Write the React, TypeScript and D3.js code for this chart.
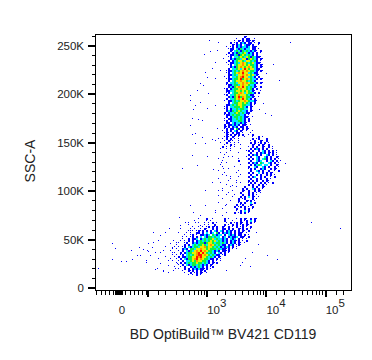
import React from 'react'
import * as d3 from 'd3'

const width = 372
const height = 360

const yMajorTicks = [0, 50000, 100000, 150000, 200000, 250000]
const yMinorTicks = [10000, 20000, 30000, 40000, 60000, 70000, 80000, 90000, 110000, 120000, 130000, 140000, 160000, 170000, 180000, 190000, 210000, 220000, 230000, 240000, 260000]
const xMajorTicks = [100, 1000, 10000, 100000]
const xLinearTicks = [-76, -62, -48, -34, -20, -12, -10, -8, -6, -4, -2, 0, 2, 4, 6, 8, 10, 12, 24, 38, 52, 66, 80, 94]
const xLogTicks = [150, 200, 300, 400, 500, 600, 700, 800, 900, 1500, 2000, 3000, 4000, 5000, 6000, 7000, 8000, 9000, 15000, 20000, 30000, 40000, 50000, 60000, 70000, 80000, 90000, 150000, 200000]
const xLabels = [{ value: 1000, exp: '3' }, { value: 10000, exp: '4' }, { value: 100000, exp: '5' }]

// pseudocolor levels, low to high density
const levelColors: Record<string, string> = {
  ':': '#0000ff',
  b: '#0000ff',
  c: '#00e8ff',
  g: '#10f040',
  y: '#e8f000',
  o: '#ff9000',
  r: '#ff1000',
}

// density rows, two channels per character
const upperFirstChannelX = 120
const upperFirstChannelY = 252
const upperRows = [
  '..............b:',
  '..........:..b.bb..:',
  '.........:.b:b.bb:b:',
  '.......b.:b.bcb.bb.:.b',
  '........b:bcb.cbb:b..:',
  '.....:.:b.bcbccbc.bb:',
  '......:bb.cbgcbcc.bb.:',
  '.......b:cgcbgcgcbcb:.b',
  '......b.bcbgcgycbcb.b.:',
  '.....:.bbcgbgygcgcb.b',
  '......:b.ccgygcygbgcbb:.',
  '.......bcbggcyybgygcb.b:',
  '......b.bcgyygcyygcgb.:',
  '.....:.bbcgcyoygcgycbb:',
  '......:b.cgyyoygyggcb.b:',
  '.......bcbgyoygyoygcb.b:',
  '......b.ccgycyrygyycbb.',
  '.....:bbcgcgyoyoyggcb:b:',
  '.....:b.cgyoyryycgcbb.',
  '......bbcgcyyoyoygycb:',
  '....:.b.ccgyoryycgcb.b',
  '.....:bbcggyrgyoygccb.b:',
  '......b.cgyyoyygcgcb.',
  '.....b.ccgcyyoyoyggcb.b:',
  '.....:bbcggcyoyygccb.',
  '......bcbgyoyrygcgcb:.b',
  '....:b.bcggyoyygcgb.b',
  '.....bbccgyygygygcb:.',
  '.....:b.cggyoycyggcb.b',
  '....:b.ccgyoyyygcbb.',
  '......bcbgyrgoyggcb:.:',
  '.....b.ccgyoyrygcb.b',
  '....:.bbcgcgyyoygccb:',
  '......b.cggyygygcb.b',
  '.....bbcgcgyyggccb.:',
  '....:b.ccgggygcb.b:',
  '....:b.bccgcggcc.b.',
  '.....bcbgcgygccb.b:',
  '....b.bccgygcgcbb.',
  '....:bbcgcggccb.:',
  '.....b.bcggcgcbb:.:',
  '....:.bbccgcgcb.b.',
  '....:b.bcccggcb.b',
  '.....bb.cbccbcb:.',
  '....b.bbcbcb.bb:.:',
  '....b:b.bcb.bb.b.',
  '....:b.bb.gb.b.b:',
  '...:.b.b.cb.b:.:..:',
  '....:b:.b.bb.:...:',
  '.....b:b.b:b.b..:.b',
  '....:b:.b:.:..:...:..b.:',
  '.:.:.b.b.:.:......b.:b...b',
  '....:.b::..:.....:.b..b:.b',
  '..:..b.:.:.:.....b.b.:b.b.:',
  '....:..b.:..:.....b:.b.b:.b.',
  '...b.:.:.:......:.b.b..b:.b.:',
  '..:..:.:....:....b.bcb.b.b..:.',
  '.......:.......:b.b..b.cb.b.b.:',
  '..:..:.....:.....b..b.bcb.b:b.:',
  '....:...........b.bcb.b..cb.b.:.',
  '......:.:......:.b..cb..cb.b..b:',
  '.:.........:....b.b.cb.cgb.b.b.:',
  '...:.......b.....b..cbc..b.cb.b.:',
  '.....:..........b.bcb.gc..cb.b.:.',
  '..:.........:....b.bcgc.cc.b..b:',
  '...:.....:......b..cb..cb.b..b.:',
  '......:.........:b.b..bcb..b.b:',
  '.:.........:.....b..cb.b..b..:.b',
  '....:.....:.....b.b..c.b.b.b:.',
  '...:........:....b..b.b..b.b.:',
  '.......:...:....b.bc..b.b..:.b',
  '.:.....:.........b..b.b..b.:',
  '......:...:.....b.b.b..b.b:.',
  '..:.......:.:...:b.b..b.b.:.b',
  '.....:..........b.b..b.b.:.',
  '.......:..:...b...b.b..b:.',
  '...:.........b.b..cb.b.:.',
  '.:......:....b:.b..b.b:',
  '......:.....b...b.b.:.:',
  '.....:...:...b..b.b.:',
  '........:...b.b.c.b:.:',
  '...:.......b.:b...b.:.',
  '.......:...b...b:b.:',
  '.:.........:b.b..c.b.',
  '.....:....b.:b...b:',
  '.........b.:b.b.:.b',
  '...:......b...b.b.:',
  '..........:.b.c.b.',
  '.....:...b.:b.b.:',
]

const lowerFirstChannelX = 72
const lowerFirstChannelY = 70
const lowerRows = [
  '...............:...b..:.....b.....:.b.b:.b.b:',
  '.............:.....:........b...:...b.:b.c.b',
  '...............:..:.:.b.:....:.b.:b.b:.b.b.:',
  '..........:.......:.:..b....b.:.b.b.:b.b:',
  '............:..:.:.:b.b:b..b:.b.:.b.:b.:.b',
  '...........:.:..:.b:..b.b..bb.b.b..b:b.b.:',
  '..........:.:.:b:b.b.b.cb.cb.bcb:b.b.b:.b',
  '.........:.:..bb.b.c.bc.gb.bcbcb.b.bb:.:',
  '........:..:b.:.bbcbc.gcbcc.b.cbcb.bb.b.:',
  '.......:.:.:b.b.c.cbggcgcc.bc.bcbbc.bb:.b',
  '.......:..b.bbc.bcgcggycgccbcb.cbc.b.:.:',
  '......:.:.b.b.bcgcgcgygycgcbcb.bcb:b.:.b',
  '.....:..:b..bcbcggbgyygcggcgcb.bcb.b:.:',
  '....:...b.b.cgcggygcyoygcgcbb.bcb.:b:',
  '...:.:.:b.cbcggcyyogyygcgcbcbcb.b.:',
  '..:.:..bcb.ggcyyoyygygggcgcbb:b.:.:',
  '.:...:.b.cbgcyoyryoyggcbcb.bb:b.',
  '...:..b.bcggyyoryrygcgcb.cb.b.:',
  '..:.:.:b.cgcgyorryoygcgcbb.:b',
  '...:.b.bbcggyyroryygcgcb.b:',
  '.:..:.b.cbggyoryoyggcbb.b.:',
  '..:..:.b.ccgygoyyggcb.b.:.:',
  '....:.b.bcgcggyggcgcb.b:b',
  '.....:.b.cbcggcgcbcb.b:',
  '...:..:.b..bcbcgcb.b.:b',
  '.....:..b.b.bcbcbb:b.:',
  '.......:..b:b.b.b:b.',
  '........:..b.:b.b:.:',
  '..........:.:.b.:.',
]

// single events outside the dense rows, in channels
const dotChannelX = [113, 122, 114, 121, 108, 119, 127, 109, 116, 124, 111, 119, 104, 107, 101, 94, 112, 94, 104, 99, 119, 97, 111, 96, 102, 106, 94, 121, 99, 96, 106, 116, 119, 99, 109, 96, 111, 86, 101, 117, 127, 127, 125, 194, 177, 183, 170, 164, 167, 163, 175, 169, 255, 244, 215, 189, 57, 64, 52, 77, 86, 73, 83, 97, 109, 47, 56, 67, 76, 50, 59, 67, 72, 77, 64, 72, 81, 44, 2, 16, 16, 19, 25, 30, 35, 36, 41, 43, 50, 51, 57, 61, 67, 171, 181, 154, 146, 109, 116, 122, 129, 119, 94, 104, 130, 136, 126, 134, 139, 132, 84, 92, 69, 62, 74, 69, 64, 62, 69, 76, 80, 72, 79, 54, 59, 52, 84, 89, 94, 82, 99, 104, 114, 119, 126, 136, 160, 162, 156, 149, 144, 130, 104]
const dotChannelY = [248, 246, 237, 238, 234, 226, 230, 216, 220, 218, 211, 210, 205, 203, 198, 193, 195, 188, 186, 183, 183, 179, 180, 170, 169, 168, 163, 160, 155, 154, 151, 149, 148, 145, 145, 133, 132, 120, 123, 119, 120, 131, 126, 246, 224, 208, 215, 198, 185, 179, 173, 175, 208, 60, 66, 125, 56, 53, 45, 48, 50, 60, 71, 76, 83, 39, 41, 38, 36, 28, 19, 18, 16, 18, 25, 28, 25, 33, 20, 29, 45, 40, 27, 27, 38, 29, 33, 41, 26, 38, 46, 20, 17, 33, 29, 22, 26, 98, 106, 93, 83, 78, 83, 63, 113, 103, 98, 88, 76, 70, 63, 66, 56, 48, 45, 42, 36, 30, 32, 41, 46, 23, 20, 33, 36, 37, 60, 66, 58, 56, 66, 73, 68, 76, 73, 63, 56, 44, 36, 30, 23, 18, 15]

const xChannel = d3.scaleLinear().domain([0, 256]).range([96, 352])
const yChannel = d3.scaleLinear().domain([0, 256]).range([288.3, 32.3])
const yScale = d3.scaleLinear().domain([0, 262144]).range([288.3, 34])

// biexponential display: linear around zero, log from 100 up
const xLinear = d3.scaleLinear().domain([0, 100]).range([119, 148])
const xLog = d3.scaleLog().domain([100, 100000]).range([148, 325.7])
const xValue = (v: number) => (v >= 100 ? xLog(v) : xLinear(v))

const gridCells = (rows: string[], firstX: number, firstY: number) =>
  rows.flatMap((row, j) =>
    Array.from(row).flatMap((level, i) =>
      level === '.' ? [] : [{ cx: firstX + i * 2, cy: firstY - j * 2, level }],
    ),
  )

const cells = [
  ...gridCells(upperRows, upperFirstChannelX, upperFirstChannelY),
  ...gridCells(lowerRows, lowerFirstChannelX, lowerFirstChannelY),
]

const font = 'Liberation Sans, Arial, sans-serif'

export default function App() {
  return (
    <svg width={width} height={height} style={{ position: 'absolute', left: 0, top: 0, background: '#fff' }} fontFamily={font}>
      <g shapeRendering="crispEdges">
        {cells.map((d, i) => {
          const size = d.level === ':' ? 1 : 2
          return <rect key={i} x={xChannel(d.cx)} y={yChannel(d.cy)} width={size} height={size} fill={levelColors[d.level]} />
        })}
        {dotChannelX.map((cx, i) => (
          <rect key={i} x={xChannel(cx)} y={yChannel(dotChannelY[i])} width={1} height={1} fill="#0000ff" />
        ))}
        <rect x={95.5} y={34} width={255.5} height={256} fill="none" stroke="#000" />
        {yMajorTicks.map(v => <line key={v} x1={88} x2={96} y1={yScale(v)} y2={yScale(v)} stroke="#000" strokeWidth={2} />)}
        {yMinorTicks.map(v => <line key={v} x1={92} x2={96} y1={yScale(v)} y2={yScale(v)} stroke="#000" />)}
        {xMajorTicks.map(v => <line key={v} x1={xValue(v)} x2={xValue(v)} y1={290} y2={297} stroke="#000" strokeWidth={2} />)}
        {xLinearTicks.concat(xLogTicks).map(v => <line key={v} x1={xValue(v)} x2={xValue(v)} y1={290} y2={295} stroke="#000" />)}
      </g>
      <g fontSize={11.5} fill="#222">
        {yMajorTicks.map(v => (
          <text key={v} x={84} y={yScale(v) + 4} textAnchor="end">{v === 0 ? '0' : `${v / 1000}K`}</text>
        ))}
        <text x={122} y={314} textAnchor="middle">0</text>
        {xLabels.map(d => (
          <text key={d.exp} x={xValue(d.value)} y={314}>10<tspan dy={-7}>{d.exp}</tspan></text>
        ))}
      </g>
      <text x={223} y={339} textAnchor="middle" fontSize={14} fill="#222">BD OptiBuild™ BV421 CD119</text>
      <text transform="translate(35,161) rotate(-90)" textAnchor="middle" fontSize={14} fill="#222">SSC-A</text>
    </svg>
  )
}
